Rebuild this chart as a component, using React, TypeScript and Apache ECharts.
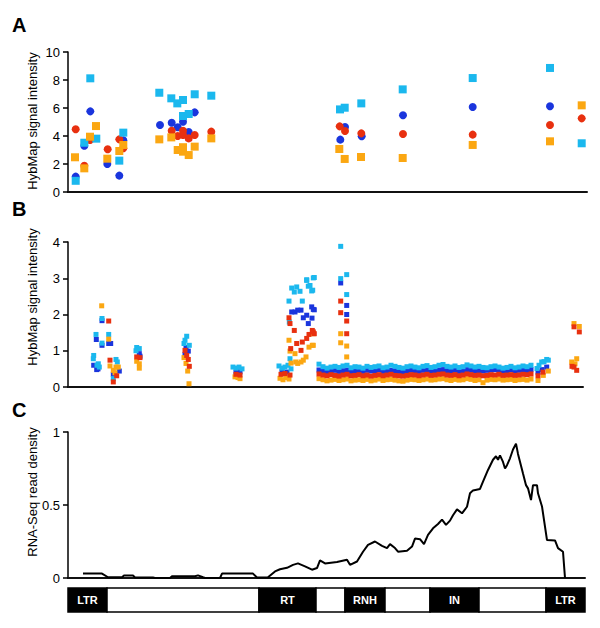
import React, { useEffect, useRef } from "react";
import * as echarts from "echarts";

const FONT = '"Liberation Sans", Arial, Helvetica, sans-serif';
const RED = "#e8300f";
const BLUE = "#1a35dd";
const CYAN = "#1bb8ee";
const ORANGE = "#fba712";

// ---------- Panel A (x = probe position along the provirus, y = HybMap signal) ----------
const aBlueCircles = [
  [7.7, 1.1], [16.3, 3.3], [22.3, 5.76], [39.3, 2.0], [51.3, 1.17], [55.3, 3.7],
  [92, 4.79], [103.7, 4.95], [109.7, 4.62], [115, 5.02], [115, 5.35], [120.7, 4.29], [126.7, 5.69],
  [272.3, 3.74], [277, 4.64], [293.7, 3.98], [335, 5.48], [404.7, 6.07], [482, 6.12],
];
const aRedCircles = [
  [7.7, 4.48], [16.3, 1.88], [22, 3.71], [39.7, 3.05], [51.3, 3.76], [55.3, 3.12],
  [103.7, 4.38], [109.7, 4.0], [115, 4.38], [115, 4.07], [120.7, 3.83], [126.7, 4.07], [143.3, 4.31],
  [271.7, 4.69], [277, 4.36], [293.3, 4.19], [335, 4.14], [404.7, 4.1], [482, 4.79], [513.7, 5.26],
];
const aCyanSquares = [
  [7.7, 0.8], [16.3, 3.52], [22.3, 8.12], [28.3, 3.81], [51.3, 2.24], [55.3, 4.24],
  [91.3, 7.09], [103.3, 6.69], [109.3, 6.33], [115, 6.57], [115, 5.43], [120.7, 5.57], [126.7, 6.98], [143.3, 6.88],
  [272, 5.9], [276.7, 6.02], [293.3, 6.33], [334.7, 7.33], [404.7, 8.14], [482, 8.86], [513.7, 3.48],
];
const aOrangeSquares = [
  [7, 2.48], [16.3, 1.69], [22, 3.95], [28, 4.71], [39.3, 2.38], [51.3, 2.93], [55.3, 3.36],
  [91.3, 3.76], [103.3, 3.9], [109.7, 3.0], [115, 2.88], [115, 3.2], [120.7, 2.64], [126.7, 3.24], [143.3, 3.83],
  [271.3, 3.07], [276.7, 2.36], [293, 2.5], [334.7, 2.43], [404.7, 3.36], [482, 3.62], [513.7, 6.19],
];

// ---------- Panel B ----------
const bCyan = [
  [34, 1.89], [28, 1.45], [34, 1.21], [25.7, 0.87], [25.3, 0.78], [30.3, 0.64], [31.3, 0.55], [29, 0.6],
  [40.7, 1.45], [48, 0.76], [49.3, 0.69], [45.3, 0.23],
  [68.7, 1.09], [71.3, 1.06], [68, 1.0],
  [118.7, 1.4], [117, 1.29], [116, 1.2], [121.3, 1.15],
  [165, 0.55], [168, 0.52], [171, 0.55], [174, 0.5],
  [211, 0.58], [214, 0.52], [217, 0.55], [220, 0.6], [223, 0.5],
  [221, 2.37], [221.3, 1.79], [222, 0.78], [223.7, 2.73], [226.3, 2.62], [228.7, 2.76], [232, 2.64], [234.3, 2.37],
  [238.7, 2.94], [240.3, 2.78], [242, 2.8], [243.7, 2.65], [246.3, 3.02], [238.7, 2.96], [245.3, 3.01], [244.7, 2.67],
  [272.7, 3.88], [272.7, 2.99], [278.7, 3.1], [278.7, 2.55],
  [469, 0.51], [471, 0.6], [473.7, 0.69], [476, 0.7], [478.7, 0.76], [480.3, 0.74],
];
const bBlue = [
  [34, 1.83], [28.3, 1.31], [34, 1.15], [25.7, 0.6], [28.7, 0.48], [30, 0.5],
  [40.7, 1.2], [42.7, 1.2], [45.3, 0.35], [51.3, 0.44],
  [71.3, 0.92], [72, 0.85],
  [118, 1.09], [120.3, 0.99], [117, 0.9],
  [168, 0.41], [172, 0.42],
  [214, 0.42], [219, 0.41],
  [223.7, 2.07], [227, 2.07], [229.7, 2.12], [233, 2.12], [235.3, 1.91], [238.7, 1.98], [240.3, 1.75],
  [243.7, 2.21], [246.3, 2.13], [245.3, 2.14], [244, 1.9],
  [272.7, 2.87], [278.7, 2.25], [278.7, 2.0],
  [470, 0.41], [474, 0.48], [478.7, 0.55],
];
const bRed = [
  [40.7, 1.82], [42, 0.74], [48.7, 0.31], [45.3, 0.14],
  [68.7, 0.83], [72, 0.81],
  [117, 1.01], [120.3, 0.76], [118.7, 0.87], [121.3, 0.57],
  [168, 0.35], [172, 0.33],
  [213, 0.35], [217, 0.37], [222, 0.33],
  [221, 1.91], [222, 1.75], [222.7, 1.06], [226.3, 1.56], [228.7, 1.2], [233, 1.01], [234.3, 1.24],
  [238.7, 1.34], [241, 1.45], [244.3, 1.56], [246.3, 1.47], [245.3, 1.52],
  [272.7, 2.37], [272.7, 2.05], [278.7, 1.82], [278.7, 1.47],
  [470, 0.31], [475, 0.41],
  [506, 1.66], [511.3, 1.52], [504, 0.57], [506, 0.55], [508.7, 0.46],
];
const bOrange = [
  [33.7, 2.24], [40.7, 1.32], [42, 0.58], [45.3, 0.46], [48, 0.55], [50.3, 0.55], [47, 0.39],
  [68.7, 0.71], [71.3, 0.64], [71.3, 0.52],
  [116, 0.81], [118, 0.65], [119.7, 0.44], [121, 0.09],
  [167, 0.28], [172, 0.23], [170, 0.26],
  [212, 0.24], [215, 0.2], [218, 0.26], [221, 0.22],
  [221, 1.29], [222, 0.99], [223, 0.66], [227, 0.92], [227.7, 0.69], [229.7, 0.65], [233, 0.69], [235.3, 0.74],
  [238, 0.83], [241, 1.1], [244.3, 1.15], [245.3, 1.15], [245.3, 1.47],
  [272.7, 1.47], [272.7, 1.22], [278.7, 1.13], [278.7, 0.83],
  [470, 0.18], [475.3, 0.32], [480.3, 0.44],
  [506, 1.75], [511.3, 1.67], [503.7, 0.69], [508.7, 0.78], [507, 0.64],
];

// dense low-signal stretch of probes (panel B)
const bandPos = [
  251, 255, 259, 263, 267, 271, 275, 279, 283, 287,
  291, 295, 299, 303, 307, 311, 315, 319, 323, 327,
  331, 335, 339, 343, 347, 351, 355, 359, 363, 367,
  371, 375, 379, 383, 387, 391, 395, 399, 403, 407,
  411, 415, 419, 423, 427, 431, 435, 439, 443, 447,
  451, 455, 459, 463,
];
const bandCyan = [
  0.63, 0.56, 0.52, 0.55, 0.57, 0.54, 0.58, 0.6, 0.53, 0.56,
  0.55, 0.52, 0.57, 0.54, 0.56, 0.58, 0.53, 0.55, 0.6, 0.57,
  0.54, 0.52, 0.56, 0.58, 0.55, 0.53, 0.57, 0.59, 0.54, 0.56,
  0.6, 0.62, 0.57, 0.55, 0.58, 0.54, 0.56, 0.61, 0.58, 0.55,
  0.57, 0.54, 0.53, 0.56, 0.58, 0.55, 0.52, 0.54, 0.57, 0.53,
  0.55, 0.58, 0.56, 0.6,
];
const bandBlue = [
  0.47, 0.44, 0.42, 0.45, 0.46, 0.43, 0.45, 0.47, 0.42, 0.44,
  0.45, 0.43, 0.46, 0.44, 0.45, 0.47, 0.43, 0.44, 0.46, 0.45,
  0.43, 0.42, 0.45, 0.46, 0.44, 0.43, 0.46, 0.47, 0.44, 0.45,
  0.47, 0.48, 0.45, 0.44, 0.46, 0.43, 0.45, 0.48, 0.46, 0.44,
  0.45, 0.44, 0.46, 0.47, 0.48, 0.46, 0.44, 0.45, 0.47, 0.44,
  0.46, 0.47, 0.45, 0.48,
];
const bandRed = [
  0.36, 0.33, 0.31, 0.34, 0.32, 0.3, 0.33, 0.35, 0.31, 0.32,
  0.34, 0.31, 0.33, 0.3, 0.32, 0.34, 0.31, 0.33, 0.35, 0.32,
  0.31, 0.3, 0.32, 0.34, 0.33, 0.31, 0.33, 0.35, 0.32, 0.33,
  0.35, 0.36, 0.33, 0.32, 0.34, 0.31, 0.33, 0.36, 0.34, 0.32,
  0.33, 0.31, 0.32, 0.34, 0.33, 0.35, 0.32, 0.33, 0.34, 0.32,
  0.33, 0.35, 0.34, 0.36,
];
const bandOrange = [
  0.23, 0.2, 0.17, 0.19, 0.21, 0.18, 0.2, 0.22, 0.17, 0.19,
  0.2, 0.18, 0.21, 0.17, 0.19, 0.22, 0.18, 0.2, 0.21, 0.19,
  0.17, 0.16, 0.19, 0.21, 0.2, 0.18, 0.2, 0.22, 0.19, 0.2,
  0.22, 0.23, 0.2, 0.18, 0.21, 0.19, 0.2, 0.23, 0.21, 0.18,
  0.2, 0.12, 0.19, 0.21, 0.2, 0.22, 0.19, 0.2, 0.21, 0.18,
  0.2, 0.21, 0.19, 0.22,
];

// ---------- Panel C: RNA-Seq read density ----------
const cDensity = [
  [15, 0.03], [34, 0.03], [40, 0.005], [54, 0.005], [56, 0.017], [65, 0.017], [67, 0.003], [85, 0.003],
  [87, 0], [102, 0], [104, 0.012], [127, 0.012], [130, 0.018], [135, 0.005], [137, 0], [152, 0],
  [154, 0.03], [185, 0.03], [189, 0.003], [200, 0.005], [207, 0.045], [212, 0.06], [219, 0.07],
  [225, 0.09], [230, 0.1], [237, 0.08], [244, 0.057], [249, 0.068], [252, 0.12], [257, 0.1],
  [269, 0.109], [279, 0.125], [282, 0.09], [289, 0.113], [295, 0.18], [300, 0.227], [307, 0.25],
  [314, 0.22], [319, 0.205], [322, 0.232], [327, 0.205], [330, 0.18], [339, 0.186], [344, 0.215],
  [347, 0.27], [352, 0.266], [356, 0.232], [360, 0.295], [365, 0.34], [370, 0.37], [374, 0.4],
  [378, 0.364], [382, 0.393], [385, 0.43], [389, 0.47], [394, 0.443], [399, 0.488], [402, 0.58],
  [405, 0.6], [412, 0.61], [415, 0.66], [420, 0.74], [425, 0.81], [428, 0.834], [430, 0.81],
  [432, 0.84], [435, 0.795], [437, 0.75], [439, 0.773], [442, 0.82], [445, 0.88], [448, 0.92],
  [450, 0.85], [455, 0.716], [458, 0.636], [460, 0.614], [463, 0.534], [465, 0.636], [469, 0.636],
  [470, 0.58], [474, 0.49], [479, 0.26], [487, 0.257], [490, 0.205], [495, 0.18], [497, 0],
];

// ---------- Genome map ----------
const segLabels = ["LTR", "", "RT", "", "RNH", "", "IN", "", "LTR"];
const segStart = [0, 39, 191, 248, 277, 317, 362, 411, 478];
const segEnd = [39, 191, 248, 277, 317, 362, 411, 478, 517];

const withBand = (pts: number[][], band: number[]) =>
  pts.concat(bandPos.map((p, i) => [p, band[i]]));

function yAxisCfg(gridIndex: number, min: number, max: number, interval: number) {
  return {
    type: "value",
    gridIndex,
    min,
    max,
    interval,
    axisLine: { show: true, lineStyle: { color: "#000", width: 1.5 } },
    axisTick: { show: true, length: 5, lineStyle: { color: "#000", width: 1.5 } },
    axisLabel: { color: "#000", fontSize: 13, fontFamily: FONT, margin: 8 },
    splitLine: { show: false },
  };
}
function xAxisCfg(gridIndex: number, max: number) {
  return {
    type: "value",
    gridIndex,
    min: 0,
    max,
    axisLine: { show: true, onZero: false, lineStyle: { color: "#111", width: 2 } },
    axisTick: { show: false },
    axisLabel: { show: false },
    splitLine: { show: false },
  };
}
function scatter(idx: number, data: number[][], symbol: string, size: number, color: string) {
  return {
    type: "scatter",
    xAxisIndex: idx,
    yAxisIndex: idx,
    data,
    symbol,
    symbolSize: size,
    itemStyle: { color, opacity: 1 },
    emphasis: { disabled: true },
    silent: true,
  };
}
function vText(text: string, x: number, y: number) {
  return {
    type: "text",
    x,
    y,
    rotation: Math.PI / 2,
    style: {
      text,
      font: `13px ${FONT}`,
      fill: "#000",
      align: "center",
      verticalAlign: "middle",
      textAlign: "center",
      textVerticalAlign: "middle",
    },
  };
}
function letter(text: string, x: number, y: number) {
  return {
    type: "text",
    x,
    y,
    style: { text, font: `bold 20px ${FONT}`, fill: "#000" },
  };
}

const option: any = {
  animation: false,
  backgroundColor: "#fff",
  grid: [
    { left: 68, top: 52, width: 519, height: 140 },
    { left: 68, top: 242, width: 515, height: 145 },
    { left: 68, top: 432, width: 517, height: 146 },
    { left: 68, top: 588, width: 517, height: 24 },
  ],
  xAxis: [
    xAxisCfg(0, 519),
    xAxisCfg(1, 515),
    xAxisCfg(2, 517),
    { type: "value", gridIndex: 3, min: 0, max: 517, show: false },
  ],
  yAxis: [
    yAxisCfg(0, 0, 10, 2),
    yAxisCfg(1, 0, 4, 1),
    yAxisCfg(2, 0, 1, 0.5),
    { type: "value", gridIndex: 3, min: 0, max: 1, show: false },
  ],
  graphic: [
    letter("A", 12, 15),
    letter("B", 12, 199),
    letter("C", 12, 400),
    vText("HybMap signal intensity", 32, 121),
    vText("HybMap signal intensity", 32, 297),
    vText("RNA-Seq read density", 32, 492),
  ],
  series: [
    scatter(0, aBlueCircles, "circle", 8, BLUE),
    scatter(0, aRedCircles, "circle", 8, RED),
    scatter(0, aCyanSquares, "rect", 8, CYAN),
    scatter(0, aOrangeSquares, "rect", 8, ORANGE),
    scatter(1, withBand(bBlue, bandBlue), "rect", 5, BLUE),
    scatter(1, withBand(bCyan, bandCyan), "rect", 5, CYAN),
    scatter(1, withBand(bOrange, bandOrange), "rect", 5, ORANGE),
    scatter(1, withBand(bRed, bandRed), "rect", 5, RED),
    {
      type: "line",
      xAxisIndex: 2,
      yAxisIndex: 2,
      data: cDensity,
      showSymbol: false,
      symbol: "none",
      lineStyle: { color: "#000", width: 2 },
      silent: true,
    },
    {
      type: "custom",
      xAxisIndex: 3,
      yAxisIndex: 3,
      silent: true,
      data: segLabels.map((l, i) => [segStart[i], segEnd[i], i]),
      renderItem: (params: any, api: any) => {
        const i = api.value(2);
        const label = segLabels[i];
        const p0 = api.coord([api.value(0), 1]);
        const p1 = api.coord([api.value(1), 0]);
        const children: any[] = [
          {
            type: "rect",
            shape: { x: p0[0], y: p0[1], width: p1[0] - p0[0], height: p1[1] - p0[1] },
            style: { fill: label ? "#000" : "#fff", stroke: "#000", lineWidth: 1.5 },
          },
        ];
        if (label) {
          children.push({
            type: "text",
            style: {
              text: label,
              x: (p0[0] + p1[0]) / 2,
              y: (p0[1] + p1[1]) / 2,
              fill: "#fff",
              font: `bold 11px ${FONT}`,
              align: "center",
              verticalAlign: "middle",
              textAlign: "center",
              textVerticalAlign: "middle",
            },
          });
        }
        return { type: "group", children };
      },
    },
  ],
};

export default function App() {
  const ref = useRef<HTMLDivElement>(null);
  useEffect(() => {
    const chart = echarts.init(ref.current!, null, { renderer: "svg" });
    chart.setOption(option);
    return () => chart.dispose();
  }, []);
  return (
    <div
      ref={ref}
      style={{ position: "fixed", left: 0, top: 0, width: 600, height: 628, background: "#fff" }}
    />
  );
}
